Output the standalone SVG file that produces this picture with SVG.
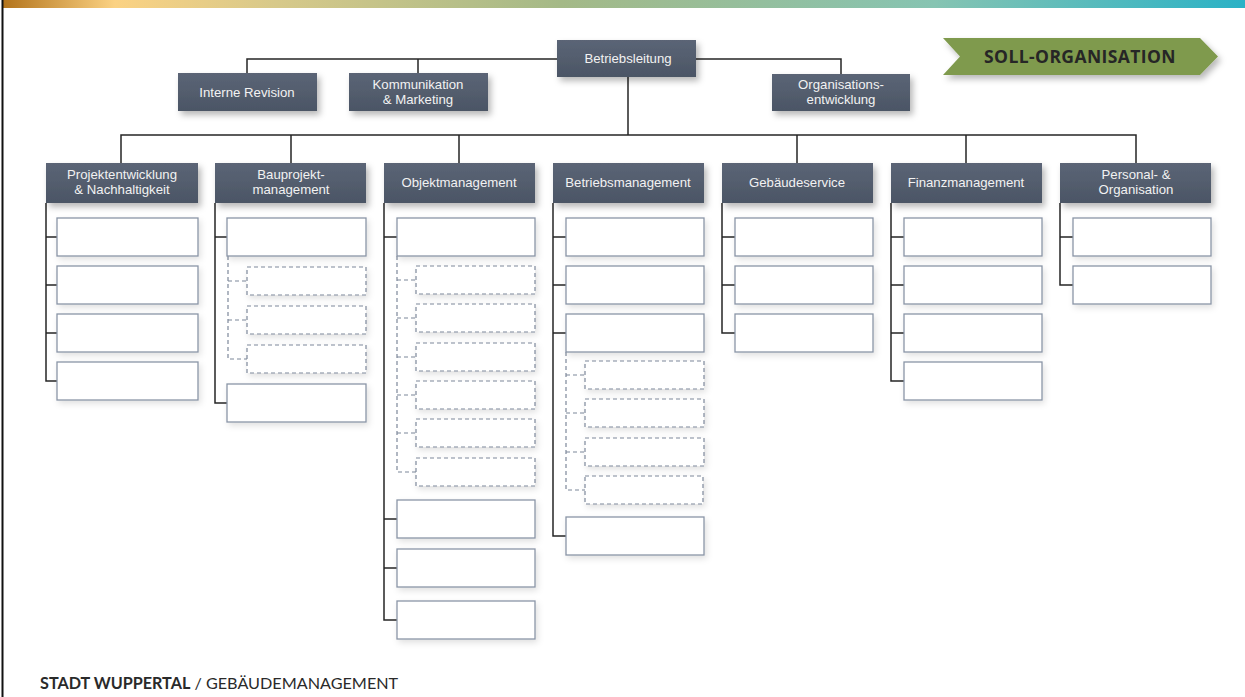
<svg xmlns="http://www.w3.org/2000/svg" width="1245" height="697" viewBox="0 0 1245 697">
  <defs>
    <linearGradient id="topbar" x1="0" y1="0" x2="1" y2="0">
      <stop offset="0" stop-color="#b3741c"/>
      <stop offset="0.09" stop-color="#fbd283"/>
      <stop offset="0.22" stop-color="#d7c98a"/>
      <stop offset="0.45" stop-color="#a4b987"/>
      <stop offset="0.75" stop-color="#86c4b2"/>
      <stop offset="1" stop-color="#2ab2c6"/>
    </linearGradient>
    <linearGradient id="darkbox" x1="0" y1="0" x2="0" y2="1">
      <stop offset="0" stop-color="#5b6576"/>
      <stop offset="1" stop-color="#4b5565"/>
    </linearGradient>
    <filter id="shadow" x="-10%" y="-20%" width="130%" height="160%">
      <feDropShadow dx="3" dy="4" stdDeviation="3" flood-color="#000" flood-opacity="0.28"/>
    </filter>
    <filter id="softshadow" x="-10%" y="-20%" width="130%" height="160%">
      <feDropShadow dx="2" dy="3" stdDeviation="3" flood-color="#000" flood-opacity="0.12"/>
    </filter>
  </defs>
  <style>
    .node { fill: url(#darkbox); filter: url(#shadow); }
    .label { font-family: "Liberation Sans", Arial, sans-serif; font-size: 13.2px; fill: #f2f2f2; text-anchor: middle; }
    .sub { fill: #ffffff; stroke: #8a95a7; stroke-width: 1.3; filter: url(#softshadow); }
    .subd { fill: #ffffff; stroke: #7d889a; stroke-width: 1.2; stroke-dasharray: 4 3; filter: url(#softshadow); }
    .link { fill: none; stroke: #262626; stroke-width: 1.5; }
    .linkd { fill: none; stroke: #7d889a; stroke-width: 1.2; stroke-dasharray: 4 3; }
  </style>

  <rect width="1245" height="697" fill="#ffffff"/>
  <!-- header band and left rule -->
  <rect x="3" y="0" width="1242" height="8" fill="url(#topbar)"/>
  <line x1="2.5" y1="0" x2="2.5" y2="697" stroke="#111" stroke-width="2"/>

  <!-- connectors -->
  <g id="connectors">
    <path class="link" d="M247,73 V59 H557 M418,59 V73 M696,59 H841 V74"/>
    <path class="link" d="M628,77 V135 M121,163 V135 H1136 V163 M291,135 V163 M459,135 V163 M797,135 V163 M966,135 V163"/>
    <!-- Projektentwicklung -->
    <path class="link" d="M46,203 V381 H57 M46,237 H57 M46,285 H57 M46,333 H57"/>
    <!-- Bauprojektmanagement -->
    <path class="link" d="M215,203 V403 H227 M215,237 H227"/>
    <path class="linkd" d="M228,256 V359 H247 M228,281 H247 M228,320 H247"/>
    <!-- Objektmanagement -->
    <path class="link" d="M384,203 V620 H397 M384,237 H397 M384,519 H397 M384,568 H397"/>
    <path class="linkd" d="M397,256 V472 H416 M397,280 H416 M397,318 H416 M397,357 H416 M397,395 H416 M397,433 H416"/>
    <!-- Betriebsmanagement -->
    <path class="link" d="M553,203 V536 H566 M553,237 H566 M553,285 H566 M553,333 H566"/>
    <path class="linkd" d="M566,352 V490 H585 M566,375 H585 M566,413 H585 M566,452 H585"/>
    <!-- Gebäudeservice -->
    <path class="link" d="M722,203 V333 H735 M722,237 H735 M722,285 H735"/>
    <!-- Finanzmanagement -->
    <path class="link" d="M891,203 V381 H904 M891,237 H904 M891,285 H904 M891,333 H904"/>
    <!-- Personal & Organisation -->
    <path class="link" d="M1060,203 V285 H1073 M1060,237 H1073"/>
  </g>

  <!-- top level -->
  <g id="betriebsleitung">
    <rect class="node" x="557" y="40" width="139" height="37"/>
    <text class="label" x="628" y="63">Betriebsleitung</text>
  </g>
  <g id="interne-revision">
    <rect class="node" x="178" y="73" width="139" height="38"/>
    <text class="label" x="247" y="97">Interne Revision</text>
  </g>
  <g id="kommunikation">
    <rect class="node" x="349" y="73" width="139" height="38"/>
    <text class="label" x="418" y="89">Kommunikation</text>
    <text class="label" x="418" y="104">&amp; Marketing</text>
  </g>
  <g id="organisationsentwicklung">
    <rect class="node" x="772" y="74" width="138" height="37"/>
    <text class="label" x="841" y="89">Organisations-</text>
    <text class="label" x="841" y="104">entwicklung</text>
  </g>

  <!-- status tag -->
  <g id="soll-organisation">
    <polygon points="943,38 1200,38 1218,56.5 1200,75 943,75 960,56.5" fill="#7f9a4d" filter="url(#shadow)"/>
    <text x="1080" y="62.5" font-family="'Open Sans', 'Noto Sans', sans-serif" font-size="17.5" font-weight="700" letter-spacing="0.4" fill="#262626" text-anchor="middle">SOLL-ORGANISATION</text>
  </g>

  <!-- departments -->
  <g id="projektentwicklung">
    <rect class="node" x="46" y="163" width="152" height="40"/>
    <text class="label" x="122" y="179">Projektentwicklung</text>
    <text class="label" x="122" y="194">&amp; Nachhaltigkeit</text>
    <rect class="sub" x="57" y="218" width="141" height="38"/>
    <rect class="sub" x="57" y="266" width="141" height="38"/>
    <rect class="sub" x="57" y="314" width="141" height="38"/>
    <rect class="sub" x="57" y="362" width="141" height="38"/>
  </g>
  <g id="bauprojektmanagement">
    <rect class="node" x="215" y="163" width="151" height="40"/>
    <text class="label" x="291" y="179">Bauprojekt-</text>
    <text class="label" x="291" y="194">management</text>
    <rect class="sub" x="227" y="218" width="139" height="38"/>
    <rect class="subd" x="247" y="267" width="119" height="28"/>
    <rect class="subd" x="247" y="306" width="119" height="28"/>
    <rect class="subd" x="247" y="345" width="119" height="28"/>
    <rect class="sub" x="227" y="384" width="139" height="38"/>
  </g>
  <g id="objektmanagement">
    <rect class="node" x="384" y="163" width="151" height="40"/>
    <text class="label" x="459" y="187">Objektmanagement</text>
    <rect class="sub" x="397" y="218" width="138" height="38"/>
    <rect class="subd" x="416" y="266" width="119" height="28"/>
    <rect class="subd" x="416" y="304" width="119" height="28"/>
    <rect class="subd" x="416" y="343" width="119" height="28"/>
    <rect class="subd" x="416" y="381" width="119" height="28"/>
    <rect class="subd" x="416" y="419" width="119" height="28"/>
    <rect class="subd" x="416" y="458" width="119" height="28"/>
    <rect class="sub" x="397" y="500" width="138" height="38"/>
    <rect class="sub" x="397" y="549" width="138" height="38"/>
    <rect class="sub" x="397" y="601" width="138" height="38"/>
  </g>
  <g id="betriebsmanagement">
    <rect class="node" x="553" y="163" width="151" height="40"/>
    <text class="label" x="628" y="187">Betriebsmanagement</text>
    <rect class="sub" x="566" y="218" width="138" height="38"/>
    <rect class="sub" x="566" y="266" width="138" height="38"/>
    <rect class="sub" x="566" y="314" width="138" height="38"/>
    <rect class="subd" x="585" y="361" width="119" height="28"/>
    <rect class="subd" x="585" y="399" width="119" height="28"/>
    <rect class="subd" x="585" y="438" width="119" height="28"/>
    <rect class="subd" x="585" y="476" width="118" height="28"/>
    <rect class="sub" x="566" y="517" width="138" height="38"/>
  </g>
  <g id="gebaeudeservice">
    <rect class="node" x="722" y="163" width="151" height="40"/>
    <text class="label" x="797" y="187">Gebäudeservice</text>
    <rect class="sub" x="735" y="218" width="138" height="38"/>
    <rect class="sub" x="735" y="266" width="138" height="38"/>
    <rect class="sub" x="735" y="314" width="138" height="38"/>
  </g>
  <g id="finanzmanagement">
    <rect class="node" x="891" y="163" width="151" height="40"/>
    <text class="label" x="966" y="187">Finanzmanagement</text>
    <rect class="sub" x="904" y="218" width="138" height="38"/>
    <rect class="sub" x="904" y="266" width="138" height="38"/>
    <rect class="sub" x="904" y="314" width="138" height="38"/>
    <rect class="sub" x="904" y="362" width="138" height="38"/>
  </g>
  <g id="personal-organisation">
    <rect class="node" x="1060" y="163" width="151" height="40"/>
    <text class="label" x="1136" y="179">Personal- &amp;</text>
    <text class="label" x="1136" y="194">Organisation</text>
    <rect class="sub" x="1073" y="218" width="138" height="38"/>
    <rect class="sub" x="1073" y="266" width="138" height="38"/>
  </g>

  <!-- footer -->
  <text x="40" y="689" font-family="Lato, 'Open Sans', sans-serif" font-size="16.2" fill="#2a2a2a"><tspan font-weight="700">STADT WUPPERTAL</tspan><tspan> / GEBÄUDEMANAGEMENT</tspan></text>
</svg>
